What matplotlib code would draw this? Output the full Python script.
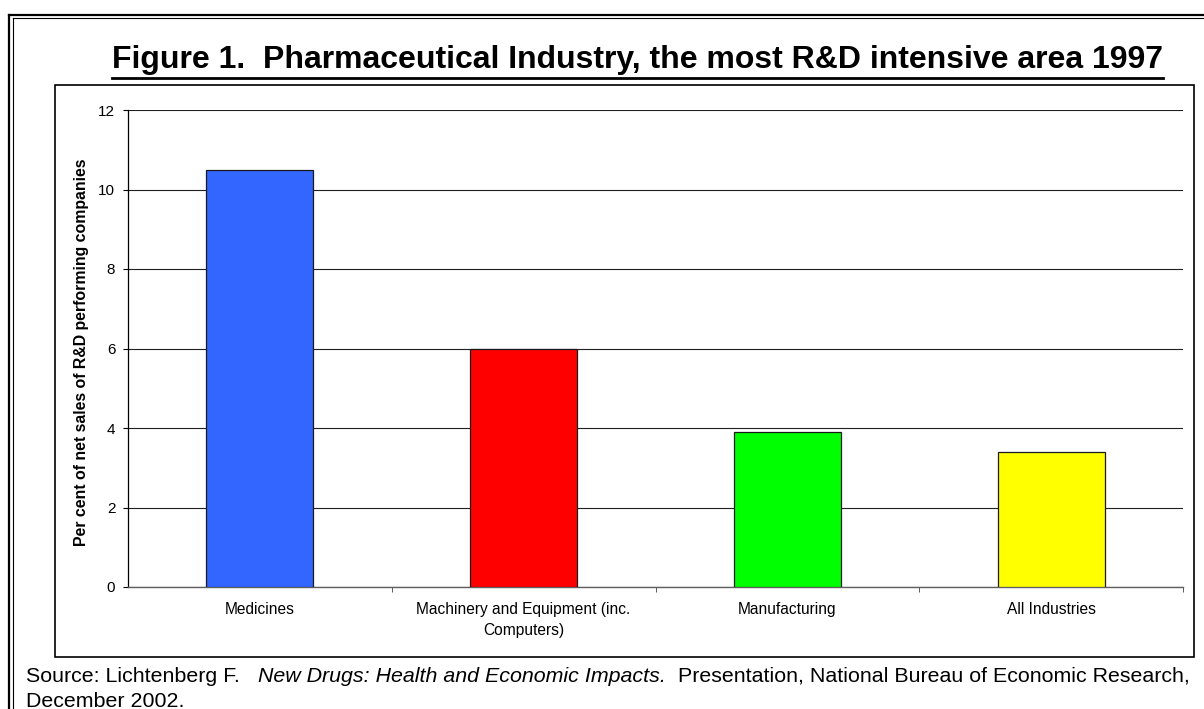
import matplotlib
matplotlib.use("Agg")
import matplotlib.pyplot as plt
from matplotlib.lines import Line2D
from matplotlib.patches import Rectangle

plt.rcParams['font.family'] = ['Liberation Sans', 'DejaVu Sans']

categories = ["Medicines", "Machinery and Equipment (inc.\nComputers)", "Manufacturing", "All Industries"]
values = [10.5, 6.0, 3.9, 3.4]
colors = ["#3366FF", "#FF0000", "#00FF00", "#FFFF00"]
yticks = [0, 2, 4, 6, 8, 10, 12]
title = "Figure 1.  Pharmaceutical Industry, the most R&D intensive area 1997"
ylabel = "Per cent of net sales of R&D performing companies"
source_parts = [("Source: Lichtenberg F.   ", "normal"),
                ("New Drugs: Health and Economic Impacts.", "italic"),
                ("  Presentation, National Bureau of Economic Research,", "normal")]
source_line2 = "December 2002."

W, H = 1204, 709
fig = plt.figure(figsize=(W / 100, H / 100), dpi=100)

def fx(px):
    return px / W

def fy(py):
    return 1 - py / H

# Outer double border (cropped on right/bottom)
fig.add_artist(Line2D([fx(9), fx(9)], [fy(15), 0], transform=fig.transFigure, color='black', lw=1.6))
fig.add_artist(Line2D([fx(9), 1], [fy(15), fy(15)], transform=fig.transFigure, color='black', lw=1.6))
fig.add_artist(Line2D([fx(12.5), fx(12.5)], [fy(17.5), 0], transform=fig.transFigure, color='black', lw=0.8))
fig.add_artist(Line2D([fx(12.5), 1], [fy(17.5), fy(17.5)], transform=fig.transFigure, color='black', lw=0.8))

# Chart box
fig.add_artist(Rectangle((fx(55), fy(657)), fx(1194) - fx(55), fy(85) - fy(657),
                         transform=fig.transFigure, fill=False, edgecolor='black', lw=1.2))

# Axes
left, right, top, bottom = 128, 1183, 110, 587
ax = fig.add_axes([fx(left), fy(bottom), fx(right) - fx(left), fy(top) - fy(bottom)])
x = list(range(len(categories)))
ax.bar(x, values, width=0.405, color=colors, edgecolor='#1a1a1a', linewidth=0.9, zorder=3)
ax.set_xlim(-0.5, len(categories) - 0.5)
ax.set_ylim(0, 12)
ax.set_yticks(yticks)
ax.set_yticklabels([str(v) for v in yticks], fontsize=11)
ax.yaxis.grid(True, color='#202020', lw=0.8, zorder=0)
ax.set_axisbelow(True)
ax.set_xticks(x)
ax.set_xticklabels(categories, fontsize=11.2, linespacing=1.45)
ax.tick_params(axis='x', which='major', length=0, pad=11)
ax.set_xticks([i + 0.5 for i in range(len(categories))], minor=True)
ax.tick_params(axis='x', which='minor', length=3.6, direction='out', color='#404040')
ax.tick_params(axis='y', length=3.6, direction='out', pad=5.5)
for s in ['top', 'right']:
    ax.spines[s].set_visible(False)
ax.spines['left'].set_color('black')
ax.spines['left'].set_linewidth(0.9)
ax.spines['bottom'].set_color('#606060')
ax.spines['bottom'].set_linewidth(1.0)

fig.text(fx(82), fy(352), ylabel, rotation=90, ha='center', va='center', fontsize=11.4, fontweight='bold')

# Title
t = fig.text(fx(637), fy(68), title, ha='center', va='baseline', fontsize=23, fontweight='bold')
fig.canvas.draw()
r = fig.canvas.get_renderer()
bb = t.get_window_extent(r)
fig.add_artist(Line2D([bb.x0 / W, bb.x1 / W], [fy(77.5), fy(77.5)], transform=fig.transFigure,
                      color='black', lw=2.0))

# Source text
xpos = 26
for txt, style in source_parts:
    tt = fig.text(xpos / W, fy(682), txt, ha='left', va='baseline', fontsize=15.4, style=style)
    b = tt.get_window_extent(r)
    xpos = b.x1
fig.text(fx(26), fy(707), source_line2, ha='left', va='baseline', fontsize=15.4)

fig.savefig("out.png", dpi=100)
